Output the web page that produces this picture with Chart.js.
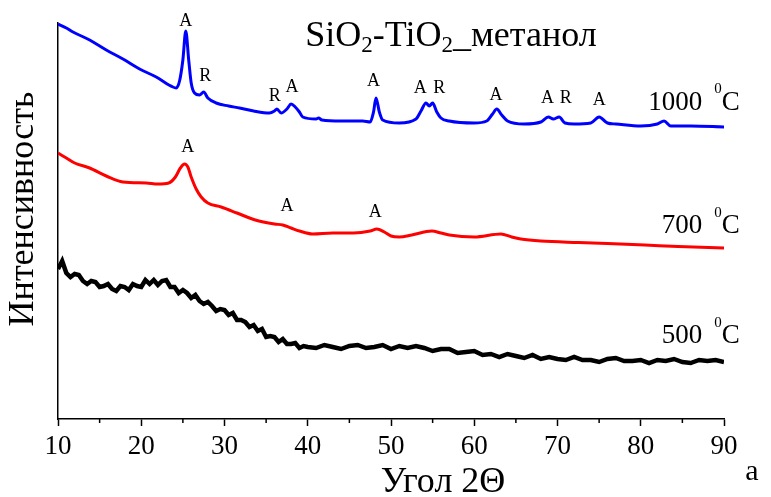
<!DOCTYPE html>
<html>
<head>
<meta charset="utf-8">
<script src="https://cdn.jsdelivr.net/npm/chart.js@4.4.1/dist/chart.umd.min.js"></script>
<style>
html,body{margin:0;padding:0;background:#fff;}
#wrap{width:771px;height:497px;position:relative;}
</style>
</head>
<body>
<div id="wrap"><canvas id="c" width="771" height="497"></canvas></div>
<script>
// ---------- data ----------
const xTicks = [10, 20, 30, 40, 50, 60, 70, 80, 90];
const minorTicks = [15, 25, 35, 45, 55, 65, 75, 85];
const xTitle = 'Угол 2Θ';
const yTitle = 'Интенсивность';
const panelLetter = 'a';
const seriesNames = ['1000', '700', '500'];

const blueAngle = [10.0,11.0,11.8,13.8,15.8,17.8,19.8,21.8,23.8,24.2,24.6,25.0,25.35,25.7,26.0,26.4,27.0,27.5,28.0,29.0,30.5,31.8,33.5,35.4,36.0,36.3,36.8,37.5,38.0,38.5,39.0,39.4,41.0,41.3,41.7,44.0,46.6,47.5,47.9,48.2,48.6,49.0,51.0,53.0,53.6,54.2,54.6,55.0,55.5,56.0,57.0,60.0,61.5,62.2,62.7,63.3,64.0,66.0,68.0,68.9,69.5,70.2,70.9,72.0,74.0,75.0,76.0,77.0,80.0,82.0,82.8,83.6,86.0,90.0];
const blueI = [395,391,387,379,369,360,350,342,332,331,338,359,388,359,336,326,324,327,321,316,313,311,308,306,308,310,306,310,315,312,307,302,300,301,299,298,298,297,307,321,307,299,296,300,308,316,313,316,307,301,298,296,298,305,310,304,298,295,297,302,300,302,296,295,296,302,296,295,293,295,298,293,293,292];

const redAngle = [10.0,11.0,12.0,13.8,15.8,17.8,20.6,22.0,23.3,24.1,24.7,25.2,25.6,26.0,26.6,27.2,28.0,29.6,31.5,33.7,36.0,37.0,38.0,39.0,40.6,43.0,45.5,47.5,48.3,49.2,50.0,51.0,52.5,54.9,56.0,57.0,60.0,63.2,64.5,65.6,68.0,72.5,76.0,80.5,84.5,90.0];
const redI = [266,261,256,251,243,237,236,235,236,242,251,255,252,242,230,222,216,212,206,199,195,194,191,188,185,186,186,188,190,187,183,182,184,188,186,184,182,185,182,180,178,176.5,175.5,174,172.5,171];

const blackAngle = [10.0,10.5,11.0,11.5,12.0,12.5,13.0,13.5,14.0,14.5,15.0,15.5,16.0,16.5,17.0,17.5,18.0,18.5,19.0,19.5,20.0,20.5,21.0,21.5,22.0,22.5,23.0,23.5,24.0,24.5,25.0,25.5,26.0,26.5,27.0,27.5,28.0,28.5,29.0,29.5,30.0,30.5,31.0,31.5,32.0,32.5,33.0,33.5,34.0,34.5,35.0,35.5,36.0,36.5,37.0,37.5,38.0,38.5,39.0,39.5,40.0,41,42,43,44,45,46,47,48,49,50,51,52,53,54,55,56,57,58,59,60,61,62,63,64,65,66,67,68,69,70,71,72,73,74,75,76,77,78,79,80,81,82,83,84,85,86,87,88,89,90];
const blackI = [150,158,146,142,145,144,138,135,138,137,132,133,135,130,128,133,132,129,135,133,132,139,135,139,134,138,139,132,132,126,129,126,121,124,118,115,117,113,108,110,109,104,106,99,99,97,92,94,88,90,82,83,82,77,80,75,75,76,71,73,72,71,74,72,70,73,74,71,72,74,70,73,71,73,71,68,70,70,66,67,68,64,65,62,65,63,61,64,60,62,60,59,62,59,59,57,60,61,58,58,59,56,59,58,60,57,56,59,58,59,57];

// peak phase labels (angle, intensity, text)
const peakAngle = [25.35,27.7,36.05,38.1,47.9,53.5,55.8,62.6,68.8,71.0,75.0, 25.6,37.5,48.1];
const peakI     = [397.5,343,322.5,331.5,337.5,330.5,331,323.5,321,321,318.5, 271.5,212.5,207];
const peakText  = ['A','R','R','A','A','A','R','A','A','R','A', 'A','A','A'];

// temperature labels: right edge angle and intensity of text centre
const tempAngle = [91.9, 91.9, 91.9];
const tempI = [316.5, 193, 83];

const FONT = "'Liberation Serif', 'Times New Roman', serif";

function pts(a, v){ return a.map((x,i)=>({x:x, y:v[i]})); }

const annot = {
  id: 'annot',
  afterDraw(chart){
    const {ctx, scales:{x, y}, chartArea} = chart;
    ctx.save();
    ctx.fillStyle = '#000';
    ctx.strokeStyle = '#000';
    // minor ticks
    ctx.lineWidth = 1.5;
    minorTicks.forEach(v => {
      const px = x.getPixelForValue(v);
      ctx.beginPath();
      ctx.moveTo(px, chartArea.bottom);
      ctx.lineTo(px, chartArea.bottom + 4);
      ctx.stroke();
    });
    // peak labels
    ctx.font = '18px ' + FONT;
    ctx.textAlign = 'center';
    ctx.textBaseline = 'middle';
    peakAngle.forEach((a, i) => {
      ctx.fillText(peakText[i], x.getPixelForValue(a), y.getPixelForValue(peakI[i]));
    });
    // temperature labels
    ctx.textBaseline = 'middle';
    ctx.textAlign = 'right';
    tempAngle.forEach((a, i) => {
      let px = x.getPixelForValue(a);
      const py = y.getPixelForValue(tempI[i]);
      ctx.font = '27px ' + FONT;
      ctx.fillText('C', px, py);
      px -= ctx.measureText('C').width;
      ctx.font = '15px ' + FONT;
      ctx.fillText('0', px, py - 13);
      px -= ctx.measureText('0').width + 12;
      ctx.font = '27px ' + FONT;
      ctx.fillText(seriesNames[i], px, py);
    });
    // title with subscripts
    const segs = [['SiO',0],['2',1],['-TiO',0],['2',1],['_метанол',0]];
    let total = 0;
    segs.forEach(s => { ctx.font = (s[1] ? '23px ' : '36px ') + FONT; total += ctx.measureText(s[0]).width; });
    let tx = 451 - total / 2;
    ctx.textAlign = 'left';
    ctx.textBaseline = 'alphabetic';
    segs.forEach(s => {
      ctx.font = (s[1] ? '23px ' : '36px ') + FONT;
      ctx.fillText(s[0], tx, 46 + (s[1] ? 6 : 0));
      tx += ctx.measureText(s[0]).width;
    });
    // x axis title
    ctx.font = '36px ' + FONT;
    ctx.textAlign = 'center';
    ctx.fillText(xTitle, 443, 492);
    // y axis title
    ctx.save();
    ctx.translate(24, 209);
    ctx.rotate(-Math.PI / 2);
    ctx.textBaseline = 'middle';
    ctx.fillText(yTitle, 0, 0);
    ctx.restore();
    // panel letter
    ctx.font = '30px ' + FONT;
    ctx.fillText(panelLetter, 752, 480);
    ctx.restore();
  }
};

new Chart(document.getElementById('c'), {
  type: 'line',
  data: {
    datasets: [
      { label: seriesNames[0], data: pts(blueAngle, blueI), borderColor: '#0000ff', borderWidth: 3, cubicInterpolationMode: 'monotone' },
      { label: seriesNames[1], data: pts(redAngle, redI), borderColor: '#ff0000', borderWidth: 3, cubicInterpolationMode: 'monotone' },
      { label: seriesNames[2], data: pts(blackAngle, blackI), borderColor: '#000000', borderWidth: 4.5, tension: 0, borderJoinStyle: 'miter' }
    ]
  },
  options: {
    responsive: false,
    animation: false,
    devicePixelRatio: 1,
    layout: { padding: { top: 23, right: 47, left: 0, bottom: 0 } },
    elements: { point: { radius: 0 } },
    plugins: { legend: { display: false }, tooltip: { enabled: false } },
    scales: {
      x: {
        type: 'linear', min: 10, max: 90,
        afterBuildTicks: s => { s.ticks = xTicks.map(v => ({ value: v })); },
        afterFit: s => { s.height = 78; },
        ticks: { color: '#000', font: { family: FONT, size: 27 }, padding: 5, maxRotation: 0 },
        grid: { display: true, drawOnChartArea: false, drawTicks: true, tickLength: 7, tickColor: '#000', tickWidth: 1.5 },
        border: { display: true, color: '#000', width: 1.5 }
      },
      y: {
        type: 'linear', min: 0, max: 396,
        afterFit: s => { s.width = 58; },
        ticks: { display: false },
        grid: { display: false },
        border: { display: true, color: '#000', width: 1.5 },
        title: { display: false, text: yTitle }
      }
    }
  },
  plugins: [annot]
});
</script>
</body>
</html>
